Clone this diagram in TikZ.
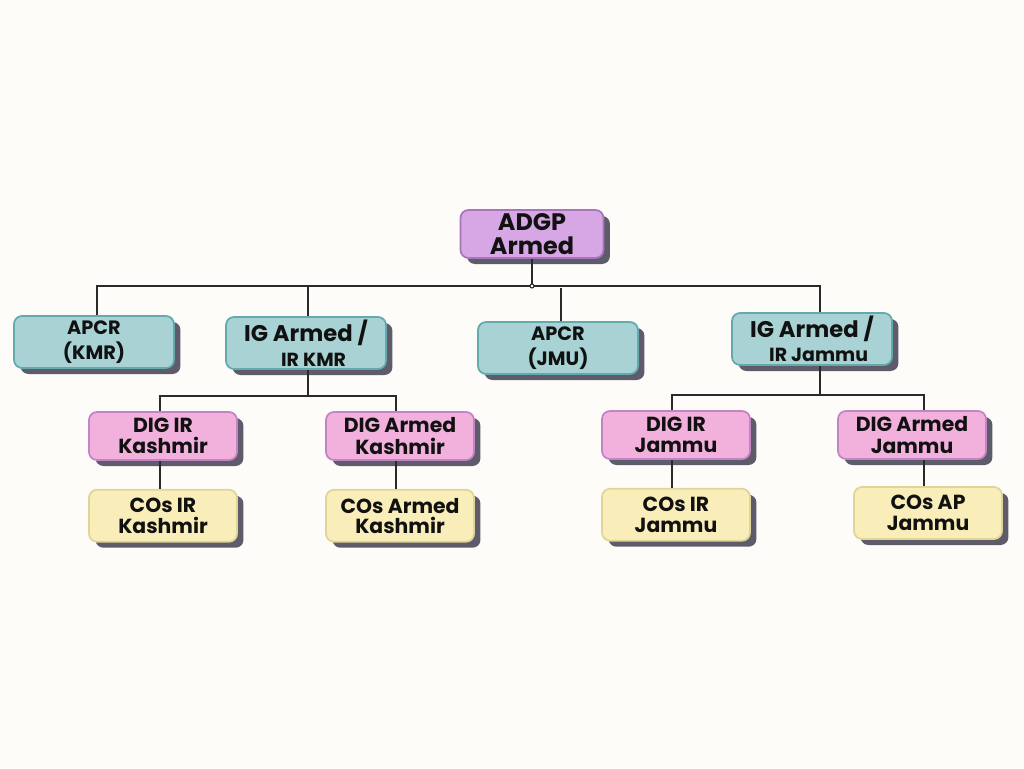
\documentclass[tikz,border=0pt]{standalone}
\usepackage{fontspec}
\setmainfont{Poppins}
\usepackage{xcolor}
\usepackage{tikz}
\usetikzlibrary{positioning}
\usetikzlibrary{shadows}
\usetikzlibrary{calc}
\definecolor{basepaper}{HTML}{FEFCF8}
\definecolor{inkblack}{HTML}{111111}
\definecolor{linegray}{HTML}{2A2A2A}
\definecolor{shadowgray}{HTML}{5E5B6B}
\definecolor{basepurple}{HTML}{D7A6E5}
\definecolor{purplecontrast}{HTML}{A874BA}
\definecolor{baseteal}{HTML}{A8D2D3}
\definecolor{tealcontrast}{HTML}{62AAAB}
\definecolor{basepink}{HTML}{F2B1DC}
\definecolor{pinkcontrast}{HTML}{C384C6}
\definecolor{baseyellow}{HTML}{F9EDB9}
\definecolor{yellowcontrast}{HTML}{E0D596}

\begin{document}
\begin{tikzpicture}[x=0.02cm, y=-0.02cm,
    every node/.style={align=center, inner sep=0pt, text=inkblack},
    card/.style={rounded corners=0.16cm, line width=1pt, general shadow={fill=shadowgray, shadow xshift=0.13cm, shadow yshift=-0.12cm}},
    headbox/.style={card, draw=purplecontrast, fill=basepurple, minimum width=2.86cm, minimum height=0.96cm, font=\fontsize{13.6}{13.6}\selectfont\bfseries},
    unitbox/.style={card, draw=tealcontrast, fill=baseteal, minimum width=3.2cm, minimum height=1.04cm, font=\fontsize{11}{14}\selectfont\bfseries},
    igbox/.style={unitbox, font=\fontsize{12.9}{14}\selectfont\bfseries},
    digbox/.style={card, draw=pinkcontrast, fill=basepink, minimum width=2.96cm, minimum height=0.96cm, font=\fontsize{11.6}{12}\selectfont\bfseries},
    cobox/.style={card, draw=yellowcontrast, fill=baseyellow, minimum width=2.96cm, minimum height=1.04cm, font=\fontsize{11.6}{11.6}\selectfont\bfseries},
    conn/.style={draw=linegray, line width=0.6pt}]
        \fill[basepaper] (0,0) rectangle (1024,768);
        \useasboundingbox (0,0) rectangle (1024,768);

        \node[headbox] (adgp) at (532,234) {ADGP\\Armed};

        \node[unitbox] (apcrk) at (94,342) {APCR\\(KMR)};
        \node[igbox] (igk) at (306,343) {IG Armed /\\{\fontsize{10.8}{12}\selectfont\hspace*{0.8em}IR KMR}};
        \node[unitbox] (apcrj) at (558,348) {APCR\\(JMU)};
        \node[igbox] (igj) at (812,339) {IG Armed /\\{\fontsize{10.8}{12}\selectfont\hspace*{0.7em}IR Jammu}};

        \node[digbox] (digirk) at (163,436) {DIG IR\\Kashmir};
        \node[digbox] (digak) at (400,436) {DIG Armed\\Kashmir};
        \node[cobox, below=0.56cm of digirk] (coirk) {COs IR\\Kashmir};
        \node[cobox, below=0.56cm of digak] (coak) {COs Armed\\Kashmir};

        \node[digbox] (digirj) at (676,435) {DIG IR\\Jammu};
        \node[digbox] (digaj) at (912,435) {DIG Armed\\Jammu};
        \node[cobox, below=0.56cm of digirj] (coirj) {COs IR\\Jammu};
        \node[cobox] (coapj) at (928,513) {COs AP\\Jammu};

        % top level
        \coordinate (topbus) at (532,286);
        \draw[conn] (adgp) -- (topbus);
        \draw[conn] ($(apcrk.north)+(3,0)$) |- (topbus) -| ($(igj.north)+(8,0)$);
        \draw[conn] ($(igk.north)+(2,0)$) |- (topbus);
        \draw[conn] ($(apcrj.north)+(3,0)$) -- ++(0,-33);
        \draw[conn, fill=basepaper] (topbus) circle (0.04cm);

        % kashmir
        \coordinate (kbus) at (308,396);
        \draw[conn] ($(igk.south)+(2,0)$) -- (kbus);
        \draw[conn] ($(digirk.north)+(-3,0)$) |- (kbus) -| ($(digak.north)+(-4,0)$);
        \draw[conn] ($(digirk.south)+(-3,0)$) -- ($(coirk.north)+(-3,0)$);
        \draw[conn] ($(digak.south)+(-4,0)$) -- ($(coak.north)+(-4,0)$);

        % jammu
        \coordinate (jbus) at (820,395);
        \draw[conn] ($(igj.south)+(8,0)$) -- (jbus);
        \draw[conn] ($(digirj.north)+(-4,0)$) |- (jbus) -| ($(digaj.north)+(12,0)$);
        \draw[conn] ($(digirj.south)+(-4,0)$) -- ($(coirj.north)+(-4,0)$);
        \draw[conn] ($(digaj.south)+(12,0)$) -- ($(coapj.north)+(-4,0)$);
\end{tikzpicture}
\end{document}
